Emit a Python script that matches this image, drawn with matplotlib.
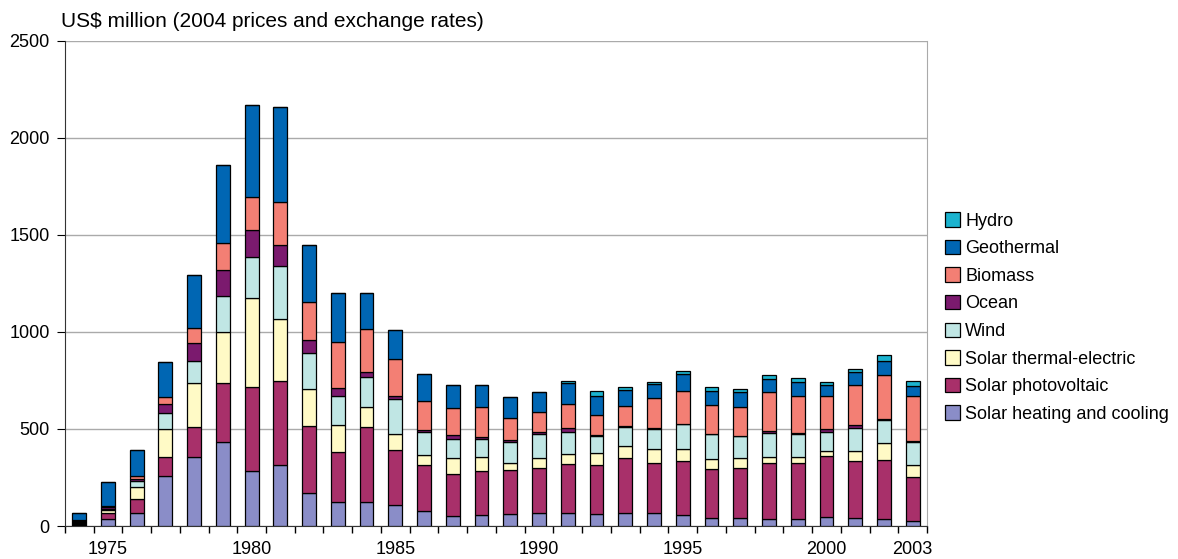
import numpy as np
import matplotlib.pyplot as plt

plt.rcParams['font.family'] = ['Liberation Sans', 'DejaVu Sans']

# years on the x axis
years = list(range(1974, 2004))

# series values, US$ million
heating = [5, 35, 69, 258, 354, 433, 285, 313, 168, 124, 125, 107, 79, 53, 57, 60,
           65, 69, 62, 69, 69, 57, 40, 40, 36, 36, 45, 40, 36, 27]
pv = [5, 30, 69, 96, 158, 306, 430, 433, 347, 257, 387, 285, 235, 215, 228, 229,
      236, 251, 252, 280, 257, 278, 254, 261, 287, 287, 317, 295, 304, 227]
thermal = [8, 18, 65, 144, 223, 263, 459, 320, 190, 140, 103, 82, 52, 81, 69, 37,
           51, 50, 61, 63, 69, 60, 51, 48, 34, 34, 26, 53, 86, 60]
wind = [3, 5, 29, 83, 115, 184, 212, 276, 184, 149, 155, 179, 117, 101, 93, 105,
        121, 116, 90, 98, 104, 131, 128, 113, 121, 119, 98, 119, 119, 117]
ocean = [5, 10, 12, 46, 95, 134, 139, 107, 72, 40, 22, 19, 12, 17, 13, 12,
         13, 18, 2, 6, 5, 2, 3, 3, 12, 5, 12, 14, 5, 7]
biomass = [5, 5, 15, 36, 77, 137, 172, 220, 194, 240, 224, 191, 149, 143, 152, 112,
           103, 125, 107, 103, 154, 166, 145, 148, 199, 189, 174, 206, 228, 234]
geothermal = [35, 125, 133, 182, 271, 402, 474, 489, 291, 253, 183, 147, 140, 117, 113, 112,
              100, 110, 95, 82, 72, 88, 77, 76, 71, 72, 55, 68, 74, 51]
hydro = [0, 0, 0, 0, 0, 0, 0, 0, 0, 0, 0, 0, 0, 0, 0, 0,
         3, 8, 25, 17, 14, 19, 17, 15, 17, 19, 17, 14, 29, 26]

labels = ['Solar heating and cooling', 'Solar photovoltaic', 'Solar thermal-electric',
          'Wind', 'Ocean', 'Biomass', 'Geothermal', 'Hydro']
colors = ['#8A8DC8', '#A8306A', '#FFFAC6', '#C0E6E4', '#7B1A6E', '#F37F74', '#0066B3', '#1BB3CF']
series = [heating, pv, thermal, wind, ocean, biomass, geothermal, hydro]

fig = plt.figure(figsize=(11.78, 5.59), dpi=100)
ax = fig.add_axes([0.055, 0.059, 0.732, 0.868])

# stacked bars, bottom series first
bottom = np.zeros(len(years))
handles = []
for vals, lab, col in zip(series, labels, colors):
    b = ax.bar(years, vals, width=0.48, bottom=bottom, color=col,
               edgecolor='black', linewidth=0.9, label=lab, zorder=3)
    handles.append(b)
    bottom += np.array(vals)

ax.set_xlim(1973.5, 2003.5)
ax.set_ylim(0, 2500)
ax.set_yticks(range(0, 2501, 500))
ax.yaxis.grid(True, color='#AAAAAA', linewidth=1, zorder=0)
ax.set_xticks([1975, 1980, 1985, 1990, 1995, 2000, 2003])
ax.set_xticks(np.arange(1973.5, 2004, 1), minor=True)
ax.tick_params(axis='x', which='major', length=0, pad=11, labelsize=13)
ax.tick_params(axis='x', which='minor', length=5, direction='out', width=1)
ax.tick_params(axis='y', length=6, direction='out', labelsize=13, pad=5)

ax.spines['top'].set_visible(False)
ax.spines['right'].set_color('#AAAAAA')
ax.spines['left'].set_color('#333333')
ax.spines['bottom'].set_color('#333333')

fig.text(0.052, 0.961, 'US$ million (2004 prices and exchange rates)', fontsize=15,
         ha='left', va='center')

leg = fig.legend(handles[::-1], labels[::-1], loc='center left',
                 bbox_to_anchor=(0.788, 0.432), frameon=False, fontsize=13,
                 handlelength=0.85, handleheight=0.85, handletextpad=0.3,
                 labelspacing=0.56)

fig.savefig('out.png', dpi=100)
